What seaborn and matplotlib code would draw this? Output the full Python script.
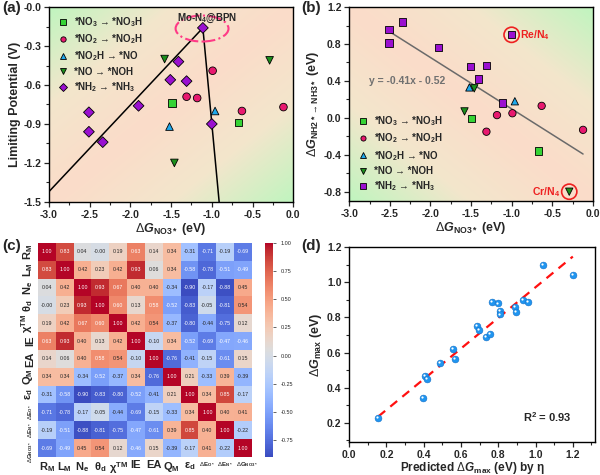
import numpy as np
import pandas as pd
import matplotlib
matplotlib.use('Agg')
import matplotlib.pyplot as plt
import seaborn as sns
from matplotlib.colors import LinearSegmentedColormap
from matplotlib.patches import Ellipse
from matplotlib.ticker import MultipleLocator, AutoMinorLocator, FormatStrFormatter
from matplotlib.transforms import offset_copy, ScaledTranslation

sns.set_style('ticks')
plt.rcParams['font.family'] = ['Liberation Sans', 'DejaVu Sans']
plt.rcParams['mathtext.fontset'] = 'custom'
plt.rcParams['mathtext.rm'] = 'Liberation Sans'
plt.rcParams['mathtext.it'] = 'Liberation Sans:italic'
plt.rcParams['mathtext.bf'] = 'Liberation Sans:bold'
plt.rcParams['mathtext.bfit'] = 'Liberation Sans:italic:bold'
plt.rcParams['axes.unicode_minus'] = False

# ---- data for (a) and (b): one entry per catalyst, grouped by limiting step
step_names = [r'*NO$_\mathbf{3}$ → *NO$_\mathbf{3}$H',
              r'*NO$_\mathbf{2}$ → *NO$_\mathbf{2}$H',
              r'*NO$_\mathbf{2}$H → *NO',
              r'*NO → *NOH',
              r'*NH$_\mathbf{2}$ → *NH$_\mathbf{3}$']
no3_x = [-1.49, -0.67]
no3_ul = [-0.74, -0.89]
no3_dg = [-0.01, -0.36]
no2_x = [-0.99, -1.31, -1.18, -0.63, -0.12]
no2_ul = [-0.49, -0.69, -0.70, -0.80, -0.77]
no2_dg = [0.05, -0.15, 0.03, 0.13, -0.13]
no2h_x = [-1.52, -0.96]
no2h_ul = [-0.92, -0.80]
no2h_dg = [0.33, 0.18]
no_x = [-1.58, -1.46, -0.29]
no_ul = [-0.40, -1.20, -0.41]
no_dg = [0.07, 0.32, -0.80]
nh2_x = [-2.51, -2.51, -2.34, -1.90, -1.51, -1.31, -1.41, -1.11, -1.00]
nh2_ul = [-0.81, -0.96, -1.04, -0.76, -0.56, -0.57, -0.42, -0.16, -0.90]
nh2_dg = [0.81, 0.96, 1.04, 0.76, 0.56, 0.57, 0.42, 0.16, 0.90]

# volcano slopes (left / right branch) through the Mo-N4@BPN top
volcano_slopes = [0.667, -6.7]
peak_idx = 7      # Mo-N4@BPN in the NH2 group
re_idx = 8        # Re/N4 in the NH2 group
cr_idx = 2        # Cr/N4 in the NO group

# ---- data for (c)
corr_labels = [r'$\mathbf{R_M}$', r'$\mathbf{L_M}$', r'$\mathbf{N_e}$', r'$\mathbf{\theta_d}$',
               r'$\mathbf{\chi^{TM}}$', 'IE', 'EA', r'$\mathbf{Q_M}$', r'$\mathbf{\varepsilon_d}$',
               r'$\Delta\mathbf{E_{O*}}$', r'$\Delta\mathbf{E_{N*}}$', r'$\Delta\mathbf{G_{NO3*}}$']
corr = [
    [1.00, 0.83, 0.04, -0.00, 0.19, 0.63, 0.14, 0.34, -0.31, -0.71, -0.19, -0.69],
    [0.83, 1.00, 0.42, 0.23, 0.42, 0.93, 0.06, 0.34, -0.58, -0.78, -0.51, -0.49],
    [0.04, 0.42, 1.00, 0.93, 0.67, 0.40, 0.40, -0.34, -0.90, -0.17, -0.88, 0.45],
    [-0.00, 0.23, 0.93, 1.00, 0.60, 0.13, 0.58, -0.52, -0.83, -0.05, -0.81, 0.54],
    [0.19, 0.42, 0.67, 0.60, 1.00, 0.42, 0.54, -0.37, -0.80, -0.44, -0.75, 0.12],
    [0.63, 0.93, 0.40, 0.13, 0.42, 1.00, -0.10, 0.34, -0.52, -0.69, -0.47, -0.46],
    [0.14, 0.06, 0.40, 0.58, 0.54, -0.10, 1.00, -0.76, -0.41, -0.15, -0.61, 0.15],
    [0.34, 0.34, -0.34, -0.52, -0.37, 0.34, -0.76, 1.00, 0.21, -0.33, 0.39, -0.39],
    [-0.31, -0.58, -0.90, -0.83, -0.80, -0.52, -0.41, 0.21, 1.00, 0.34, 0.85, -0.17],
    [-0.71, -0.78, -0.17, -0.05, -0.44, -0.69, -0.15, -0.33, 0.34, 1.00, 0.40, 0.41],
    [-0.19, -0.51, -0.88, -0.81, -0.75, -0.47, -0.61, 0.39, 0.85, 0.40, 1.00, -0.22],
    [-0.69, -0.49, 0.45, 0.54, 0.12, -0.46, 0.15, -0.39, -0.17, 0.41, -0.22, 1.00],
]

# ---- data for (d)
pred_dg = [0.156, 0.398, 0.405, 0.419, 0.485, 0.557, 0.568, 0.686, 0.695, 0.736, 0.758,
           0.768, 0.799, 0.808, 0.808, 0.887, 0.897, 0.930, 0.960, 1.039, 1.200]
dft_dg = [0.226, 0.341, 0.467, 0.452, 0.542, 0.619, 0.565, 0.753, 0.730, 0.691, 0.706,
          0.890, 0.879, 0.837, 0.817, 0.860, 0.833, 0.901, 0.890, 1.098, 1.040]

groups = [(no3_x, no3_ul, no3_dg), (no2_x, no2_ul, no2_dg), (no2h_x, no2h_ul, no2h_dg),
          (no_x, no_ul, no_dg), (nh2_x, nh2_ul, nh2_dg)]
rows = []
for name, (gx, gul, gdg) in zip(step_names, groups):
    for a, b, c in zip(gx, gul, gdg):
        rows.append({'step': name, 'dG_NO3': a, 'UL': b, 'dG_NH2': c})
df = pd.DataFrame(rows)

colors = dict(zip(step_names, ['#35d335', '#e8196f', '#1ea8ec', '#1c8f1c', '#9a10d0']))
markers_a = dict(zip(step_names, ['s', 'o', '^', 'v', 'D']))
markers_b = dict(zip(step_names, ['s', 'o', '^', 'v', 's']))

green = '#c0f5bf'
peach = '#fbdcc9'
bg_cmap = LinearSegmentedColormap.from_list('bg', [peach, '#f3e6cc', green])


def gradient(ax, extent, flip):
    u, v = np.meshgrid(np.linspace(0, 1, 300), np.linspace(0, 1, 300))
    d = np.abs(u + v - 1) if flip else np.abs(u - v)
    ax.imshow(d, extent=extent, origin='lower', cmap=bg_cmap, aspect='auto',
              interpolation='bilinear', zorder=0)


def style_axes(ax):
    for s in ax.spines.values():
        s.set_color('black')
        s.set_linewidth(1.0)
    ax.tick_params(which='major', direction='out', length=3.5, width=0.9, labelsize=7.5, pad=2)
    ax.tick_params(which='minor', direction='out', length=2, width=0.8)
    for t in ax.get_xticklabels() + ax.get_yticklabels():
        t.set_fontweight('bold')


fig = plt.figure(figsize=(6, 4.75), dpi=100)
ax_a = fig.add_axes([0.0817, 0.575, 0.407, 0.41])
ax_b = fig.add_axes([0.582, 0.577, 0.406, 0.408])
ax_c = fig.add_axes([0.063, 0.038, 0.357, 0.4505])
cax = fig.add_axes([0.442, 0.038, 0.0135, 0.4505])
ax_d = fig.add_axes([0.582, 0.069, 0.41, 0.411])

# ---------------- (a)
gradient(ax_a, [-3.0, 0.0, -1.5, 0.0], flip=False)
px, py = nh2_x[peak_idx], nh2_ul[peak_idx]
x_left = np.array([-3.0, px])
ax_a.plot(x_left, py + volcano_slopes[0] * (x_left - px), color='black', lw=1.1, zorder=2)
x_right = np.array([px, px + (-1.5 - py) / volcano_slopes[1]])
ax_a.plot(x_right, py + volcano_slopes[1] * (x_right - px), color='black', lw=1.1, zorder=2)
sns.scatterplot(data=df, x='dG_NO3', y='UL', hue='step', style='step', palette=colors,
                markers=markers_a, s=30, edgecolor='black', linewidth=0.6, ax=ax_a, zorder=3)
ax_a.add_patch(Ellipse((px - 0.01, py - 0.005), 0.65, 0.2, fill=False, edgecolor='#ff3a86',
                       ls='-.', lw=1.5, zorder=4))
ax_a.text(px + 0.05, py + 0.07, r'Mo-N$_\mathbf{4}$@BPN', ha='center', va='center',
          fontsize=7, fontweight='bold', zorder=5)
ax_a.set_xlim(-3.0, 0.0)
ax_a.set_ylim(-1.5, 0.0)
ax_a.xaxis.set_major_locator(MultipleLocator(0.5))
ax_a.xaxis.set_minor_locator(AutoMinorLocator(2))
ax_a.yaxis.set_major_locator(MultipleLocator(0.3))
ax_a.yaxis.set_minor_locator(AutoMinorLocator(2))
ax_a.xaxis.set_major_formatter(FormatStrFormatter('%.1f'))
ax_a.yaxis.set_major_formatter(FormatStrFormatter('%.1f'))
ax_a.set_xlabel(r'$\Delta\mathbfit{G}_{\mathbf{NO3*}}$ (eV)', fontsize=9, fontweight='bold', labelpad=1)
ax_a.set_ylabel('Limiting Potential (V)', fontsize=9, fontweight='bold', labelpad=2)
h, l = ax_a.get_legend_handles_labels()
ax_a.legend(h, l, loc='upper left', bbox_to_anchor=(0.0, 1.0), frameon=False, markerscale=0.7,
            prop={'weight': 'bold', 'size': 7}, handletextpad=0.6, labelspacing=0.35,
            borderaxespad=0.4, handlelength=1.2)
style_axes(ax_a)

# ---------------- (b)
gradient(ax_b, [-3.0, 0.0, -0.9, 1.2], flip=True)
k, b0 = np.polyfit(df['dG_NO3'], df['dG_NH2'], 1)
xf = np.array([df['dG_NO3'].min(), df['dG_NO3'].max()])
ax_b.plot(xf, k * xf + b0, color='#6a6a6a', lw=1.1, zorder=2)
sns.scatterplot(data=df, x='dG_NO3', y='dG_NH2', hue='step', style='step', palette=colors,
                markers=markers_b, s=28, edgecolor='black', linewidth=0.6, ax=ax_b, zorder=3)
ax_b.text(-2.76, 0.40, 'y = -0.41x - 0.52', color='#707070', fontsize=7.5, fontweight='bold',
          va='center', zorder=4)
ax_b.scatter([nh2_x[re_idx], no_x[cr_idx]], [nh2_dg[re_idx], no_dg[cr_idx]], s=120,
             facecolors='none', edgecolors='#ee2020', linewidths=1.2, zorder=4)
ax_b.text(nh2_x[re_idx] + 0.1, nh2_dg[re_idx], r'Re/N$_\mathbf{4}$', color='#ee2020',
          fontsize=7.5, fontweight='bold', va='center', zorder=5)
ax_b.text(no_x[cr_idx] - 0.11, no_dg[cr_idx], r'Cr/N$_\mathbf{4}$', color='#ee2020',
          fontsize=7.5, fontweight='bold', va='center', ha='right', zorder=5)
ax_b.set_xlim(-3.0, 0.0)
ax_b.set_ylim(-0.9, 1.2)
ax_b.xaxis.set_major_locator(MultipleLocator(0.5))
ax_b.xaxis.set_minor_locator(AutoMinorLocator(2))
ax_b.yaxis.set_major_locator(MultipleLocator(0.4))
ax_b.yaxis.set_minor_locator(AutoMinorLocator(2))
ax_b.xaxis.set_major_formatter(FormatStrFormatter('%.1f'))
ax_b.yaxis.set_major_formatter(FormatStrFormatter('%.1f'))
ax_b.set_xlabel(r'$\Delta\mathbfit{G}_{\mathbf{NO3*}}$ (eV)', fontsize=9, fontweight='bold', labelpad=1)
ax_b.set_ylabel(r'$\Delta\mathbfit{G}_{\mathbf{NH2*\rightarrow NH3*}}$ (eV)', fontsize=9,
                fontweight='bold', labelpad=2)
h, l = ax_b.get_legend_handles_labels()
ax_b.legend(h, l, loc='lower left', bbox_to_anchor=(0.0, 0.0), frameon=False, markerscale=0.7,
            prop={'weight': 'bold', 'size': 7}, handletextpad=0.6, labelspacing=0.35,
            borderaxespad=0.4, handlelength=1.2)
style_axes(ax_b)

# ---------------- (c)
corr_df = pd.DataFrame(corr, index=corr_labels, columns=corr_labels)
sns.heatmap(corr_df, ax=ax_c, cbar_ax=cax, annot=True, fmt='.2f', cmap='coolwarm',
            annot_kws={'size': 3.8}, xticklabels=True, yticklabels=True)
ax_c.tick_params(length=0, pad=2)
ax_c.set_xticklabels(corr_labels, rotation=0, fontweight='bold')
ax_c.set_yticklabels(corr_labels, rotation=90, fontweight='bold', va='center')
for t in ax_c.get_xticklabels() + ax_c.get_yticklabels():
    t.set_fontsize(4.4 if t.get_text().startswith(r'$\Delta') else 8)
# the last (widest) labels pushed a bit away from their neighbours
xl = ax_c.get_xticklabels()[-1]
xl.set_transform(xl.get_transform() + ScaledTranslation(2.5 / 72, 0, fig.dpi_scale_trans))
yl = ax_c.get_yticklabels()[-1]
yl.set_transform(yl.get_transform() + ScaledTranslation(0, -2.5 / 72, fig.dpi_scale_trans))
cax.tick_params(labelsize=4, length=2, width=0.5)

# ---------------- (d)
sns.scatterplot(x=pred_dg, y=dft_dg, ax=ax_d, s=24, color='#1f95f0', edgecolor='#1470c8',
                linewidth=0.4, zorder=3)
hl = offset_copy(ax_d.transData, fig=fig, x=-0.7, y=0.6, units='points')
ax_d.scatter(pred_dg, dft_dg, s=2.5, color='white', transform=hl, zorder=4, linewidths=0)
kd, bd = np.polyfit(pred_dg, dft_dg, 1)
xd = np.array([min(pred_dg), max(pred_dg)])
ax_d.plot(xd, kd * xd + bd, color='#ff1010', lw=1.6, ls=(0, (4, 3)), zorder=2)
ax_d.text(0.93, 0.232, r'R$^\mathbf{2}$ = 0.93', fontsize=8, fontweight='bold', va='center')
ax_d.set_xlim(0.0, 1.32)
ax_d.set_ylim(0.09, 1.2)
ax_d.xaxis.set_major_locator(MultipleLocator(0.2))
ax_d.xaxis.set_minor_locator(AutoMinorLocator(2))
ax_d.yaxis.set_major_locator(MultipleLocator(0.2))
ax_d.yaxis.set_minor_locator(AutoMinorLocator(2))
ax_d.xaxis.set_major_formatter(FormatStrFormatter('%.1f'))
ax_d.yaxis.set_major_formatter(FormatStrFormatter('%.1f'))
ax_d.set_xlabel(r'Predicted $\Delta\mathbfit{G}_{\mathbf{max}}$ (eV) by $\mathbf{\eta}$', fontsize=8.5,
                fontweight='bold', labelpad=0)
ax_d.set_ylabel(r'$\Delta\mathbfit{G}_{\mathbf{max}}$ (eV)', fontsize=9, fontweight='bold', labelpad=2)
style_axes(ax_d)

# panel letters
for x0, y0, s in [(0.003, 0.997, '(a)'), (0.502, 0.997, '(b)'), (0.003, 0.497, '(c)'), (0.502, 0.497, '(d)')]:
    fig.text(x0, y0, s, fontsize=11, fontweight='bold', ha='left', va='top')

fig.savefig('out.png', dpi=100)
